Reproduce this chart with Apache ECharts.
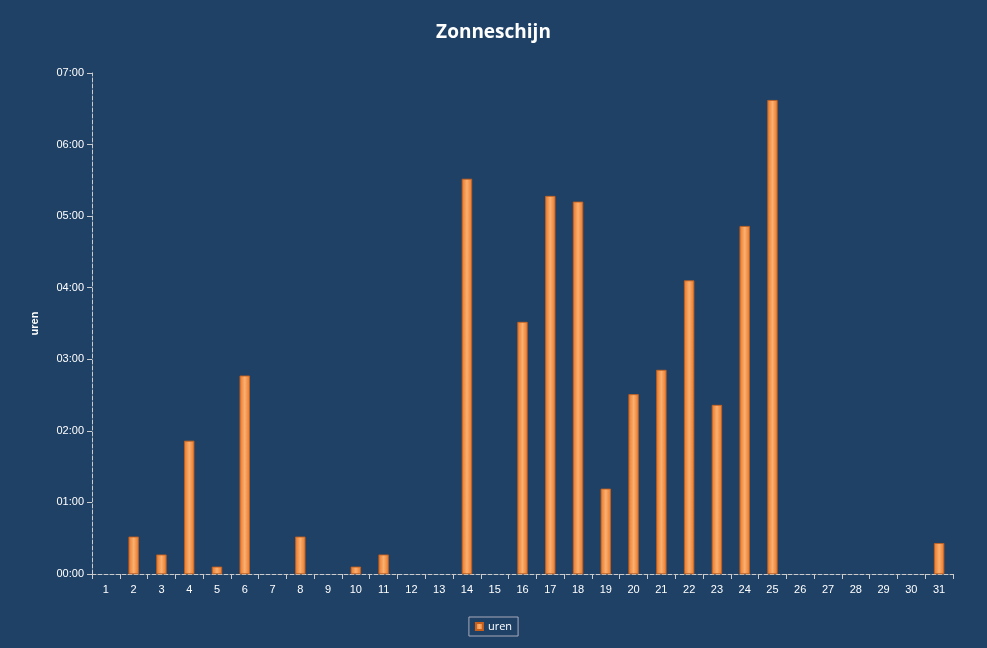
<!DOCTYPE html>
<html><head><meta charset="utf-8">
<script src="https://cdn.jsdelivr.net/npm/echarts@6/dist/echarts.min.js"></script>
<style>html,body{margin:0;padding:0;background:#fff}#c{width:987px;height:648px}</style>
</head><body><div id="c"></div>
<script>
const categories = Array.from({length:31},(_,i)=>String(i+1));
const uren = [null,0.52,0.27,1.86,0.1,2.77,null,0.52,null,0.1,0.27,null,null,5.52,null,3.52,5.28,5.2,1.19,2.51,2.85,4.1,2.36,4.86,6.62,null,null,null,null,null,0.43];
const fmt = v => { const h=Math.floor(v+1e-9), m=Math.round((v-h)*60); return String(h).padStart(2,'0')+':'+String(m).padStart(2,'0'); };
const chart = echarts.init(document.getElementById('c'));
chart.setOption({
  backgroundColor:'#1f4166',
  title:{text:'Zonneschijn',left:'center',top:18,textStyle:{color:'#fff',fontSize:19,fontWeight:'bold',fontFamily:'Open Sans'}},
  legend:{bottom:12,left:'center',itemWidth:7,itemHeight:7,icon:'rect',borderColor:'#aab',borderWidth:1,padding:[4,6],
    textStyle:{color:'#fff',fontSize:11,fontFamily:'Open Sans'}},
  grid:{left:92,right:34,top:73,bottom:74},
  xAxis:{type:'category',data:categories,axisTick:{show:true,alignWithLabel:false,lineStyle:{color:'#ccc'}},
    axisLine:{lineStyle:{color:'#ccc',type:'dashed'}},axisLabel:{color:'#fff',fontSize:11,margin:10}},
  yAxis:{type:'value',min:0,max:7,interval:1,name:'uren',nameLocation:'middle',nameGap:52,
    nameTextStyle:{color:'#fff',fontWeight:'bold',fontSize:11},
    axisLine:{show:true,lineStyle:{color:'#ccc',type:'dashed'}},axisTick:{show:true,lineStyle:{color:'#ccc'}},
    splitLine:{show:false},axisLabel:{color:'#fff',fontSize:11,formatter:fmt}},
  series:[{name:'uren',type:'bar',data:uren,barWidth:10,
    itemStyle:{color:new echarts.graphic.LinearGradient(0,0,1,0,[{offset:0,color:'#e8782a'},{offset:0.5,color:'#fbb070'},{offset:1,color:'#e8782a'}]),
      borderColor:'#c8601c',borderWidth:0.5}}]
});
</script></body></html>
